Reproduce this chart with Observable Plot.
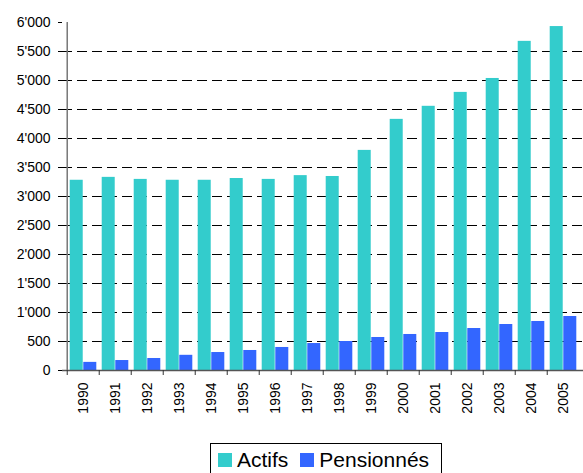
<!DOCTYPE html>
<html>
<head>
<meta charset="utf-8">
<script src="https://cdn.jsdelivr.net/npm/d3@7"></script>
<script src="https://cdn.jsdelivr.net/npm/@observablehq/plot@0.6"></script>
<style>
  body { margin: 0; background: #fff; font-family: "Liberation Sans", Arial, sans-serif; }
  #chart svg { display: block; }
  .legend { position: relative; margin-left: 210px; margin-top: 3px; width: 232px; height: 34px; border: 1px solid #000; box-sizing: border-box; display: flex; align-items: center; padding-left: 7px; font-size: 21px; color: #000; }
  .legend .sw { display: inline-block; width: 14px; height: 14px; margin-right: 5px; }
  .legend .item { display: flex; align-items: center; margin-right: 12px; }
</style>
</head>
<body>
<div id="chart"></div>
<div class="legend" id="legend"></div>
<script>
const years = ["1990","1991","1992","1993","1994","1995","1996","1997","1998","1999","2000","2001","2002","2003","2004","2005"];
const actifs = [3280, 3330, 3295, 3280, 3280, 3310, 3295, 3360, 3345, 3795, 4330, 4555, 4795, 5035, 5675, 5930];
const pensionnes = [140, 172, 207, 262, 310, 345, 397, 465, 500, 569, 621, 655, 724, 793, 845, 931];
const seriesNames = ["Actifs", "Pensionnés"];
const seriesColors = ["#33CCCC", "#3366FF"];
const yTicks = [0, 500, 1000, 1500, 2000, 2500, 3000, 3500, 4000, 4500, 5000, 5500, 6000];

const W = 583, H = 440, ML = 62, MR = 0, MT = 22, MB = 70;
const band = (W - ML - MR) / years.length;
const gap = band * 0.083;
const barW = (band - 2 * gap) / 2;

const rowsA = years.map((y, i) => ({year: y, value: actifs[i]}));
const rowsP = years.map((y, i) => ({year: y, value: pensionnes[i]}));

const fmt = d => d3.format(",")(d).replace(/,/g, "'");

const plot = Plot.plot({
  width: W, height: H,
  marginLeft: ML, marginRight: MR, marginTop: MT, marginBottom: MB,
  style: {fontFamily: "'Liberation Sans', Arial, sans-serif", fontSize: "14px", color: "#000", background: "#fff"},
  x: {domain: years, padding: 0, label: null},
  y: {domain: [0, 6000], label: null},
  marks: [
    Plot.ruleY(yTicks.filter(d => d > 0 && d < 6000), {stroke: "#000", strokeDasharray: "10,5", strokeWidth: 1}),
    Plot.barY(rowsA, {x: "year", y: "value", fill: seriesColors[0], insetLeft: gap, insetRight: gap + barW}),
    Plot.barY(rowsP, {x: "year", y: "value", fill: seriesColors[1], insetLeft: gap + barW, insetRight: gap}),
    Plot.ruleY([0], {stroke: "#555", strokeWidth: 1.5}),
    Plot.ruleX([years[0]], {dx: -band / 2, stroke: "#777", strokeWidth: 1.5}),
    Plot.axisY({ticks: yTicks, tickFormat: fmt, tickSize: 4, tickPadding: 8, fontSize: 14, label: null}),
    Plot.axisX({ticks: years, tickSize: 5, text: null, dx: -band / 2, stroke: "#333"}),
    Plot.axisX({ticks: years, tickSize: 0, tickRotate: -90, tickPadding: 12, fontSize: 14, label: null})
  ]
});
document.getElementById("chart").appendChild(plot);

const lg = document.getElementById("legend");
seriesNames.forEach((n, i) => {
  const it = document.createElement("span");
  it.className = "item";
  it.innerHTML = `<span class="sw" style="background:${seriesColors[i]}"></span><span>${n}</span>`;
  lg.appendChild(it);
});
</script>
</body>
</html>
